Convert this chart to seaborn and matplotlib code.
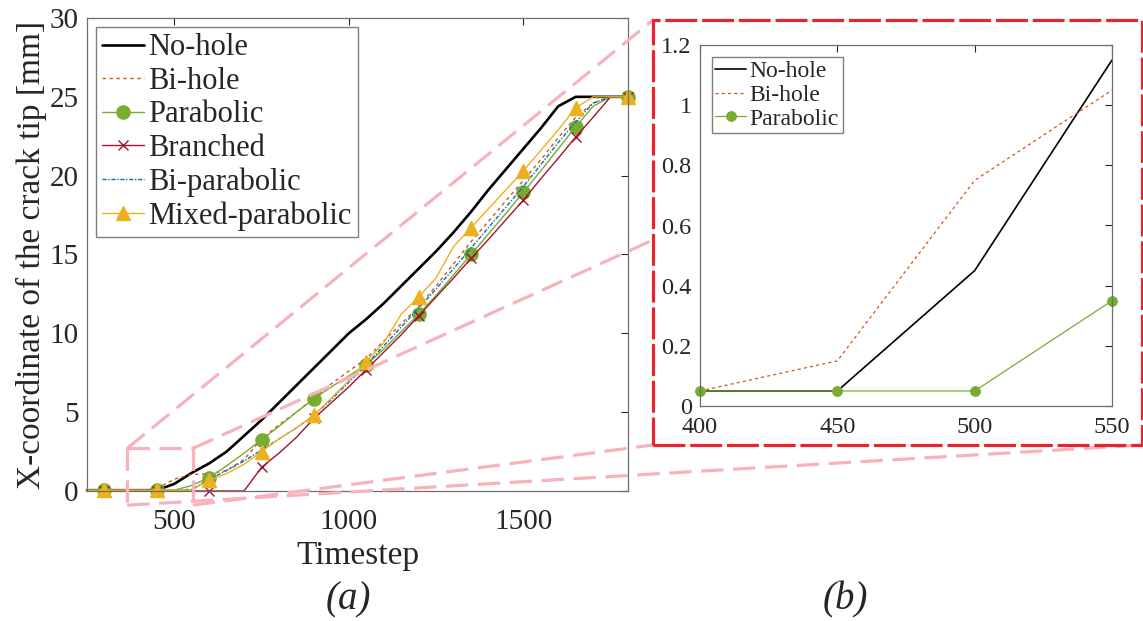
import numpy as np
import pandas as pd
import seaborn as sns
import matplotlib.pyplot as plt
from matplotlib.lines import Line2D
from matplotlib.patches import Rectangle

#%% Data
timestep = list(range(250, 1801, 50))

no_hole = [0.05, 0.05, 0.05, 0.05, 0.05, 0.45, 1.15, 1.75, 2.5, 3.5, 4.5, 5.6, 6.7, 7.8,
           8.9, 10.0, 10.9, 11.9, 13.0, 14.1, 15.2, 16.4, 17.7, 19.1, 20.4, 21.7, 23.0,
           24.4, 25, 25, 25, 25]
bi_hole = [0.05, 0.05, 0.05, 0.05, 0.15, 0.75, 1.05, 1.1, 1.3, 2.0, 3.3, 4.2, 5.0, 5.9,
           6.8, 7.6, 8.4, 9.5, 10.6, 11.7, 13.0, 14.4, 15.8, 17.1, 18.4, 19.7, 21.0,
           22.4, 23.7, 24.6, 25, 25]
parabolic = [0.05, 0.05, 0.05, 0.05, 0.05, 0.05, 0.35, 0.85, 1.6, 2.4, 3.25, 4.1, 5.0,
             5.85, 6.6, 7.3, 8.0, 9.0, 10.1, 11.2, 12.4, 13.7, 15.0, 16.3, 17.6, 18.95,
             20.3, 21.7, 23.1, 24.4, 25, 25]
branched = [0, 0, 0, 0, 0, 0, 0, 0, 0, 0, 1.5, 2.4, 3.4, 4.6, 5.6, 6.6, 7.7, 8.8, 9.9,
            11.1, 12.3, 13.5, 14.75, 15.95, 17.2, 18.45, 19.8, 21.1, 22.45, 23.7, 25, 25]
bi_parabolic = [0.05, 0.05, 0.05, 0.05, 0.05, 0.05, 0.1, 0.75, 1.3, 1.9, 2.6, 3.3, 4.0,
                4.8, 5.8, 6.9, 8.0, 9.2, 10.4, 11.6, 12.8, 14.1, 15.4, 16.7, 18.0, 19.3,
                20.7, 22.1, 23.4, 24.6, 25, 25]
mixed = [0.05, 0.05, 0.05, 0.05, 0.05, 0.05, 0.05, 0.7, 1.1, 1.7, 2.5, 3.3, 4.0, 4.8,
         5.9, 7.0, 8.2, 9.4, 11.2, 12.3, 13.5, 15.5, 16.7, 17.9, 19.1, 20.3, 21.6, 22.9,
         24.3, 25, 25, 25]

labels = ['No-hole', 'Bi-hole', 'Parabolic', 'Branched', 'Bi-parabolic', 'Mixed-parabolic']

df = pd.DataFrame({'Timestep': timestep, 'No-hole': no_hole, 'Bi-hole': bi_hole,
                   'Parabolic': parabolic, 'Branched': branched,
                   'Bi-parabolic': bi_parabolic, 'Mixed-parabolic': mixed})

# zoomed window (b)
df_zoom = df[(df['Timestep'] >= 400) & (df['Timestep'] <= 550)]

#%% Styles (MATLAB default colours)
styles = {
    'No-hole': dict(color='#000000', linestyle='-', lw=1.9, marker=None, ms=0),
    'Bi-hole': dict(color='#D95319', linestyle=(0, (2.5, 2.5)), lw=1.0, marker=None, ms=0),
    'Parabolic': dict(color='#77AC30', linestyle='-', lw=1.0, marker='o', ms=9.5),
    'Branched': dict(color='#A2142F', linestyle='-', lw=1.0, marker='x', ms=7),
    'Bi-parabolic': dict(color='#0072BD', linestyle=(0, (3, 1.2, 1, 1.2)), lw=1.0, marker=None, ms=0),
    'Mixed-parabolic': dict(color='#EDB120', linestyle='-', lw=1.0, marker='^', ms=10.5),
}

sns.set_style('white')
plt.rcParams['font.family'] = ['Liberation Serif', 'DejaVu Serif']
plt.rcParams['mathtext.fontset'] = 'stix'

fig = plt.figure(figsize=(11.43, 6.21), dpi=100)
W, H = 1143, 621


def frac(l, t, r, b):
    return [l / W, 1 - b / H, (r - l) / W, (b - t) / H]


ax1 = fig.add_axes(frac(87, 18, 628, 491))
ax2 = fig.add_axes(frac(700, 45, 1112, 406))

#%% (a) full run
for name in labels:
    s = styles[name]
    kw = dict(color=s['color'], linestyle=s['linestyle'], linewidth=s['lw'], clip_on=False)
    if s['marker']:
        kw.update(marker=s['marker'], markersize=s['ms'], markevery=(1, 3),
                  markeredgecolor=s['color'], markerfacecolor=s['color'],
                  markeredgewidth=1.0)
    sns.lineplot(data=df, x='Timestep', y=name, ax=ax1, label=name, **kw)

ax1.set_xlim(250, 1800)
ax1.set_ylim(0, 30)
ax1.set_xticks([500, 1000, 1500])
ax1.set_yticks(range(0, 31, 5))
ax1.set_xlabel('Timestep', fontsize=24, labelpad=4)
ax1.set_ylabel('X-coordinate of the crack tip [mm]', fontsize=24, labelpad=2)
ax1.legend(loc='upper left', fontsize=22, frameon=True, fancybox=False,
           edgecolor='#7f7f7f', framealpha=1, borderpad=0.2, labelspacing=0.15,
           handlelength=1.35, handletextpad=0.15, borderaxespad=0.3)

#%% (b) zoom on 400-550
for name in ['No-hole', 'Bi-hole', 'Parabolic']:
    s = styles[name]
    kw = dict(color=s['color'], linestyle=s['linestyle'],
              linewidth=1.2 if name == 'No-hole' else 0.9, clip_on=False)
    if s['marker']:
        kw.update(marker='o', markersize=7, markeredgecolor=s['color'],
                  markerfacecolor=s['color'])
    sns.lineplot(data=df_zoom, x='Timestep', y=name, ax=ax2, label=name, **kw)

ax2.set_xlim(400, 550)
ax2.set_ylim(0, 1.2)
ax2.set_xticks([400, 450, 500, 550])
ax2.set_yticks([0, 0.2, 0.4, 0.6, 0.8, 1, 1.2])
ax2.set_yticklabels(['0', '0.2', '0.4', '0.6', '0.8', '1', '1.2'])
ax2.set_xlabel('')
ax2.set_ylabel('')
ax2.legend(loc='upper left', fontsize=17, frameon=True, fancybox=False,
           edgecolor='#7f7f7f', framealpha=1, borderpad=0.15, labelspacing=0.1,
           handlelength=1.3, handletextpad=0.15, borderaxespad=0.5)

for ax, fs in [(ax1, 21), (ax2, 17.5)]:
    ax.tick_params(direction='in', top=True, right=True, length=5, width=0.8,
                   labelsize=fs, colors='#262626')
    for sp in ax.spines.values():
        sp.set_color('#6e6e6e')
        sp.set_linewidth(0.9)
ax1.tick_params(axis='x', pad=13)
ax1.tick_params(axis='y', pad=6)
ax2.tick_params(axis='x', pad=8)
ax2.tick_params(axis='y', pad=6)

#%% Zoom decorations
pink = '#F7B3BB'
fig.canvas.draw()
to_fig = fig.transFigure.inverted()


def pt(ax, x, y):
    return to_fig.transform(ax.transData.transform((x, y)))


bl = pt(ax1, 365, -0.9)
tr = pt(ax1, 553, 2.7)
tl = (bl[0], tr[1])
br = (tr[0], bl[1])

red_l, red_t, red_r, red_b = 653 / W, 1 - 20 / H, 1142 / W, 1 - 445 / H
mid = (red_l, 1 - 240 / H)

segments = [
    (tl, (tr[0], tl[1])), (tl, bl), (tr, br),
    (tl, (red_l, red_t)),
    (tr, mid),
    (br, (red_l, red_b)),
    (bl, (red_r, red_b)),
]
for a, b in segments:
    fig.add_artist(Line2D([a[0], b[0]], [a[1], b[1]], transform=fig.transFigure,
                          color=pink, lw=2.3, dashes=(7, 3), zorder=5))

fig.add_artist(Rectangle((red_l, red_b), red_r - red_l, red_t - red_b,
                         transform=fig.transFigure, fill=False, edgecolor='#E82430',
                         lw=2.3, linestyle=(0, (10, 1.5)), zorder=6))

fig.text(348 / W, 1 - 600 / H, '(a)', fontsize=28, style='italic', ha='center', va='center')
fig.text(845 / W, 1 - 600 / H, '(b)', fontsize=28, style='italic', ha='center', va='center')

fig.savefig('out.png', dpi=100)
